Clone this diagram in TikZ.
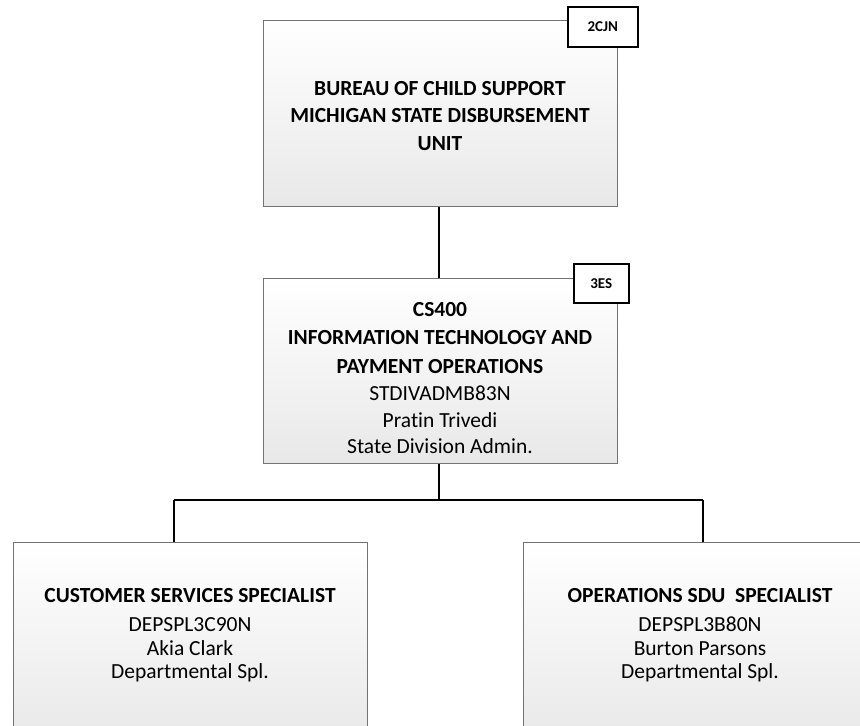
\documentclass[tikz,border=0pt]{standalone}
\usepackage{fontspec}
\setmainfont{Carlito}[Ligatures={NoCommon}]
\begin{document}
\begin{tikzpicture}[x=1pt,y=-1pt,
  unitbox/.style={draw=black!55,line width=1.1pt,top color=white,bottom color=black!9,
    inner sep=0pt,anchor=north west},
  unittext/.style={align=center,font=\fontsize{21.5}{26.5}\selectfont,inner sep=0pt},
  badge/.style={draw=black,line width=1.6pt,fill=white,font=\bfseries\fontsize{15}{17}\selectfont,
    inner sep=0pt,anchor=north west},
  link/.style={draw=black,line width=1.4pt}]
\useasboundingbox (0,0) rectangle (860,726);
% boxes
\node[unitbox,minimum width=354pt,minimum height=186pt] (top) at (263,20) {};
\node[unitbox,minimum width=354pt,minimum height=185pt] (mid) at (263,278) {};
\node[unitbox,minimum width=354pt,minimum height=200pt] (left) at (13,542) {};
\node[unitbox,minimum width=354pt,minimum height=200pt] (right) at (523,542) {};
% texts
\node[unittext] (toptext) at (440,116)
  {\textbf{BUREAU OF CHILD SUPPORT}\\[1pt]\textbf{MICHIGAN STATE DISBURSEMENT}\\[1pt]\textbf{UNIT}};
\node[unittext] (midtext) at (440,378)
  {\textbf{CS400}\\[2pt]\textbf{INFORMATION TECHNOLOGY AND}\\[2pt]\textbf{PAYMENT OPERATIONS}\\[1pt]STDIVADMB83N\\Pratin Trivedi\\State Division Admin.};
\node[unittext] (lefttext) at (190,635)
  {\textbf{CUSTOMER SERVICES SPECIALIST}\\[3pt]DEPSPL3C90N\\[-3pt]Akia Clark\\[-3pt]Departmental Spl.};
\node[unittext] (righttext) at (700,635)
  {\textbf{OPERATIONS SDU\ \ SPECIALIST}\\[3pt]DEPSPL3B80N\\[-3pt]Burton Parsons\\[-3pt]Departmental Spl.};
% badges
\node[badge,minimum width=70pt,minimum height=40pt] (b1) at (567,6) {2CJN};
\node[badge,minimum width=55pt,minimum height=39pt] (b2) at (573,263) {3ES};
% connectors
\coordinate (bus) at (439,500);
\coordinate (busL) at (174,500);
\coordinate (busR) at (703,500);
\draw[link] (top.south -| bus) -- (mid.north -| bus);
\draw[link] (mid.south -| bus) -- (bus);
\draw[link] (busL) -- (busR);
\draw[link] (busL) -- (left.north -| busL);
\draw[link] (busR) -- (right.north -| busR);
\end{tikzpicture}
\end{document}
